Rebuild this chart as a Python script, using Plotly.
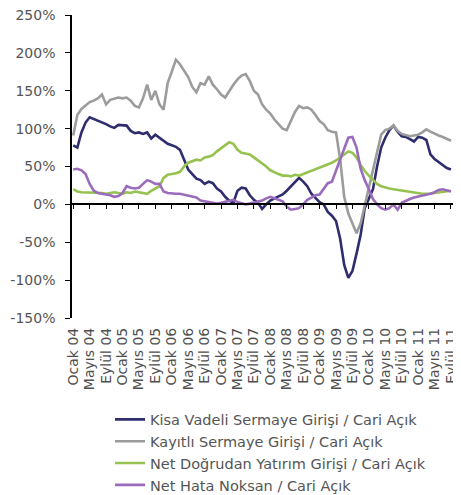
import plotly.graph_objects as go

month_names = ["Ocak", "Şubat", "Mart", "Nisan", "Mayıs", "Haziran",
               "Temmuz", "Ağustos", "Eylül", "Ekim", "Kasım", "Aralık"]
years = ["04", "05", "06", "07", "08", "09", "10", "11"]
months = [f"{m} {y}" for y in years for m in month_names][:93]  # Ocak 04 .. Eylül 11
tick_labels = [m for m in months if m.split()[0] in ("Ocak", "Mayıs", "Eylül")]

y_ticks = [-150, -100, -50, 0, 50, 100, 150, 200, 250]
y_tick_text = [f"{v}%" for v in y_ticks]

kisa_vadeli = [78, 75, 95, 108, 115, 113, 110, 108, 106, 103, 101, 105, 104, 104, 97, 94,
               95, 93, 95, 87, 92, 88, 83, 80, 78, 76, 72, 60, 46, 40, 34, 32,
               27, 30, 28, 21, 17, 10, 5, 2, 18, 22, 21, 12, 6, 2, -6, 0,
               5, 8, 10, 13, 18, 24, 30, 35, 30, 24, 14, 8, 3, 0, -10, -15,
               -22, -45, -80, -97, -88, -65, -40, -5, 8, 20, 50, 75, 88, 98, 104, 96,
               90, 89, 86, 83, 89, 88, 85, 66, 60, 56, 52, 48, 46]
kayitli = [91, 118, 126, 130, 135, 137, 140, 145, 132, 138, 140, 141, 140, 141, 137, 130,
           128, 140, 158, 138, 150, 132, 125, 160, 175, 191, 185, 176, 168, 155, 148, 160,
           158, 169, 158, 152, 145, 141, 150, 158, 165, 170, 172, 163, 150, 145, 132, 125,
           120, 112, 106, 100, 98, 110, 122, 130, 127, 128, 125, 118, 110, 106, 98, 96,
           95, 60, 10, -12, -25, -38, -25, -2, 25, 48, 70, 92, 98, 100, 104, 97,
           93, 91, 90, 91, 92, 95, 99, 96, 93, 91, 89, 87, 84]
dogrudan = [20, 17, 16, 16, 15, 16, 15, 15, 14, 15, 16, 15, 14, 16, 15, 17,
            16, 15, 14, 18, 21, 24, 35, 39, 40, 41, 43, 50, 55, 57, 59, 58,
            62, 63, 65, 70, 74, 78, 82, 80, 72, 68, 67, 66, 62, 58, 55, 50,
            45, 42, 40, 38, 38, 37, 39, 38, 40, 42, 44, 46, 48, 50, 52, 55,
            58, 62, 67, 70, 68, 62, 52, 44, 38, 32, 27, 24, 22, 21, 20, 19,
            18, 17, 16, 15, 15, 14, 14, 14, 15, 16, 17, 18, 18]
hata_noksan = [46, 47, 45, 40, 27, 18, 15, 14, 14, 12, 10, 11, 15, 24, 22, 21,
               22, 27, 32, 30, 27, 27, 17, 15, 14, 14, 14, 13, 12, 10, 9, 5,
               4, 3, 2, 1, 2, 3, 5, 6, 3, 1, 0, 1, 2, 3, 5, 8,
               10, 8, 6, 4, -3, -7, -6, -5, 0, 6, 9, 12, 13, 20, 28, 30,
               45, 58, 73, 88, 89, 75, 47, 32, 20, 7, 0, -5, -7, -5, 0, -7,
               2, 5, 7, 9, 10, 11, 13, 14, 16, 19, 20, 18, 17]

series = [
    ("Kisa Vadeli Sermaye Girişi / Cari Açık", kisa_vadeli, "#2e2d6e"),
    ("Kayıtlı Sermaye Girişi / Cari Açık", kayitli, "#9c9c9c"),
    ("Net Doğrudan Yatırım Girişi / Cari Açık", dogrudan, "#96c250"),
    ("Net Hata Noksan / Cari Açık", hata_noksan, "#9c6cbc"),
]

fig = go.Figure()
for name, vals, color in series:
    fig.add_trace(go.Scatter(x=months, y=vals, mode="lines", name=name,
                             line=dict(color=color, width=2.6)))

# invisible helper trace so the zero-line axis (x2) is drawn
fig.add_trace(go.Scatter(x=months, y=[None] * len(months), xaxis="x2",
                         showlegend=False, hoverinfo="skip", mode="lines"))

font_family = "DejaVu Sans, Verdana, sans-serif"
xrange = [-0.3, 94.2]

# the page body adds an 8px offset, so the figure is sized 8px smaller
fig.update_layout(
    width=453, height=487,
    margin=dict(l=64, r=1, t=7, b=177, autoexpand=False),
    plot_bgcolor="white", paper_bgcolor="white",
    font=dict(family=font_family, color="#555555"),
    xaxis=dict(type="category", range=xrange, showline=False, ticks="",
               tickmode="array", tickvals=tick_labels, ticktext=tick_labels,
               tickangle=-90, tickfont=dict(size=14, color="#505050"),
               ticklabelstandoff=6, automargin=False, ticklabeloverflow="allow",
               showgrid=False, zeroline=False),
    xaxis2=dict(type="category", overlaying="x", anchor="free", position=0.375,
                range=xrange, showline=True, linecolor="black", linewidth=1.5,
                ticks="outside", ticklen=4, tickwidth=1.2, tickcolor="black",
                tickmode="array", tickvals=tick_labels, showticklabels=False,
                automargin=False, showgrid=False, zeroline=False),
    yaxis=dict(range=[-150, 250], tickmode="array", tickvals=y_ticks, ticktext=y_tick_text,
               showline=True, linecolor="black", linewidth=1.5,
               ticks="outside", ticklen=5, tickcolor="black", showgrid=False,
               ticklabelstandoff=7, automargin=False, ticklabeloverflow="allow",
               zeroline=False, tickfont=dict(size=14, color="#555555")),
    legend=dict(x=0.098, y=-0.282, xanchor="left", yanchor="top",
                font=dict(size=14.5, color="#555555"), bgcolor="rgba(0,0,0,0)",
                itemwidth=30),
    showlegend=True,
)

fig.write_html("out.html")
